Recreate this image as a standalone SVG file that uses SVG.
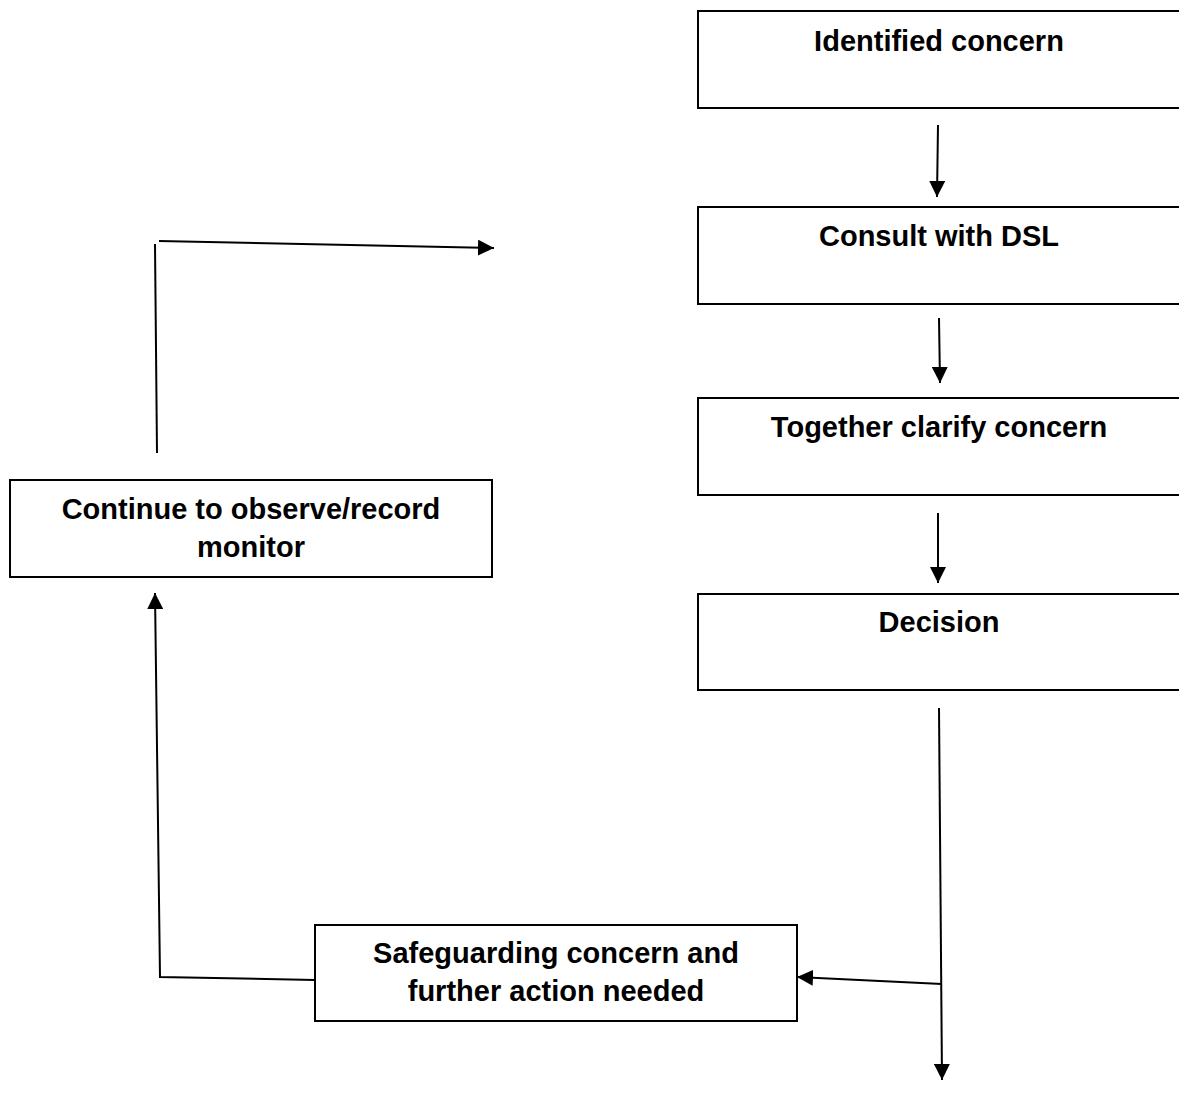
<svg xmlns="http://www.w3.org/2000/svg" width="1179" height="1093" viewBox="0 0 1179 1093">
<style>
.box{fill:#fff;stroke:#000;stroke-width:2}
.lbl{font-family:"Liberation Sans",Arial,sans-serif;font-weight:bold;font-size:29px;fill:#000;text-anchor:middle}
.con{fill:none;stroke:#000;stroke-width:2}
</style>
<defs>
<marker id="a" viewBox="0 0 16 16" refX="16" refY="8" markerWidth="16" markerHeight="16" markerUnits="userSpaceOnUse" orient="auto">
<path d="M0,0 L16,8 L0,16 z" fill="#000"/>
</marker>
</defs>
<rect width="1179" height="1093" fill="#fff"/>
<g id="n1"><rect class="box" x="698" y="11" width="490" height="97"/><text class="lbl" x="939" y="51">Identified concern</text></g>
<g id="n2"><rect class="box" x="698" y="207" width="490" height="97"/><text class="lbl" x="939" y="246">Consult with DSL</text></g>
<g id="n3"><rect class="box" x="698" y="398" width="490" height="97"/><text class="lbl" x="939" y="437">Together clarify concern</text></g>
<g id="n4"><rect class="box" x="698" y="594" width="490" height="96"/><text class="lbl" x="939" y="632">Decision</text></g>
<g id="n5"><rect class="box" x="10" y="480" width="482" height="97"/><text class="lbl" x="251" y="519">Continue to observe/record</text><text class="lbl" x="251" y="557">monitor</text></g>
<g id="n6"><rect class="box" x="315" y="925" width="482" height="96"/><text class="lbl" x="556" y="963">Safeguarding concern and</text><text class="lbl" x="556" y="1001">further action needed</text></g>
<g id="connectors">
<line class="con" x1="938" y1="125" x2="937" y2="197" marker-end="url(#a)"/>
<line class="con" x1="939" y1="318" x2="940" y2="383" marker-end="url(#a)"/>
<line class="con" x1="938" y1="513" x2="938" y2="583" marker-end="url(#a)"/>
<line class="con" x1="939" y1="708" x2="942" y2="1080" marker-end="url(#a)"/>
<line class="con" x1="942" y1="984" x2="797" y2="977" marker-end="url(#a)"/>
<polyline class="con" points="315,980 160,977 155,593" marker-end="url(#a)"/>
<line class="con" x1="157" y1="453" x2="155" y2="244"/>
<line class="con" x1="159" y1="241" x2="494" y2="248" marker-end="url(#a)"/>
</g>
</svg>
